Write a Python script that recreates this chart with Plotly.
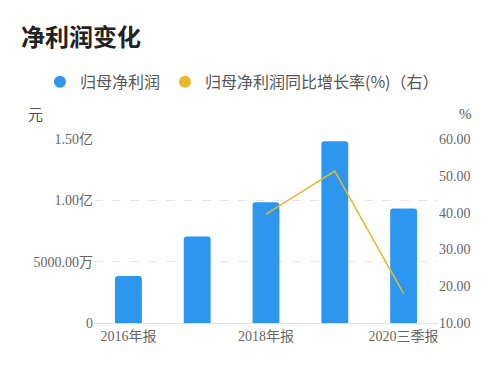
import plotly.graph_objects as go

categories = ["2016年报", "2017年报", "2018年报", "2019年报", "2020三季报"]
net_profit = [0.383e8, 0.705e8, 0.984e8, 1.481e8, 0.934e8]
growth_cats = ["2018年报", "2019年报", "2020三季报"]
growth_rate = [39.6, 51.3, 18.0]
left_tickvals = [0, 5e7, 1e8, 1.5e8]
left_ticktext = ["0", "5000.00万", "1.00亿", "1.50亿"]
right_tickvals = [10, 20, 30, 40, 50, 60]
x_tickvals = ["2016年报", "2018年报", "2020三季报"]

BLUE = "#2D96EE"
YELLOW = "#E8B829"
TICK_FONT = dict(family="Liberation Serif, Noto Sans CJK SC", size=14, color="#666666")

OFF = 8  # page body margin
W, H = 500 - 2 * OFF, 372 - 2 * OFF
ML = 94 - OFF
MT = 139 - OFF
MR = W - (437.7 - OFF)
MB = H - (322.7 - OFF)
pw, ph = W - ML - MR, H - MT - MB


def px_to_paper(x, y):
    return (x - OFF - ML) / pw, (H - MB - (y - OFF)) / ph


fig = go.Figure()
fig.add_trace(go.Bar(x=categories, y=net_profit, marker=dict(color=BLUE, line=dict(width=0)),
                     width=0.39, showlegend=False, yaxis="y"))
fig.add_trace(go.Scatter(x=growth_cats, y=growth_rate, mode="lines",
                         line=dict(color=YELLOW, width=1.5), showlegend=False, yaxis="y2"))
# legend entries with circular markers
fig.add_trace(go.Scatter(x=[None], y=[None], mode="markers", name="归母净利润",
                         marker=dict(color=BLUE, size=8, symbol="circle")))
fig.add_trace(go.Scatter(x=[None], y=[None], mode="markers", name="归母净利润同比增长率(%)（右）",
                         marker=dict(color=YELLOW, size=8, symbol="circle"), yaxis="y2"))

lx, ly = px_to_paper(40, 82)
a1x, a1y = px_to_paper(36, 114)
a2x, a2y = px_to_paper(465, 114)

fig.update_layout(
    width=W, height=H,
    margin=dict(l=ML, r=MR, t=MT, b=MB, autoexpand=False),
    paper_bgcolor="white", plot_bgcolor="white",
    barcornerradius=3,
    title=dict(text="<b>净利润变化</b>", x=(21 - OFF) / W, xanchor="left", xref="container",
               y=1 - (38 - OFF) / H, yanchor="middle", yref="container",
               font=dict(family="Noto Sans CJK SC", size=24, color="#222222")),
    legend=dict(orientation="h", x=lx, xanchor="left", xref="paper",
                y=ly, yanchor="middle", yref="paper",
                font=dict(family="Noto Sans CJK SC", size=16, color="#555555"),
                itemsizing="constant", tracegroupgap=0),
    xaxis=dict(categoryorder="array", categoryarray=categories,
               tickmode="array", tickvals=x_tickvals, ticktext=x_tickvals,
               tickfont=TICK_FONT, showgrid=False, showline=True, linecolor="#e0e0e0",
               linewidth=1, ticks="", range=[-0.5, 4.5], fixedrange=True),
    yaxis=dict(range=[0, 1.5e8], tickmode="array", tickvals=left_tickvals, ticktext=left_ticktext,
               tickfont=TICK_FONT, showgrid=True, gridcolor="#e6e6e6", griddash="dash",
               gridwidth=1, zeroline=False, showline=False, ticks="", ticklen=0),
    yaxis2=dict(range=[10, 60], overlaying="y", side="right", tickmode="array",
                tickvals=right_tickvals, ticktext=[f"{v:.2f}" for v in right_tickvals],
                tickfont=TICK_FONT, showgrid=False, zeroline=False, showline=False, ticks=""),
    annotations=[
        dict(text="元", x=a1x, y=a1y, xref="paper", yref="paper", showarrow=False,
             xanchor="center", yanchor="middle",
             font=dict(family="Noto Sans CJK SC", size=15, color="#555555")),
        dict(text="%", x=a2x, y=a2y, xref="paper", yref="paper", showarrow=False,
             xanchor="center", yanchor="middle",
             font=dict(family="Liberation Serif", size=15, color="#555555")),
    ],
)

fig.write_html("out.html")
